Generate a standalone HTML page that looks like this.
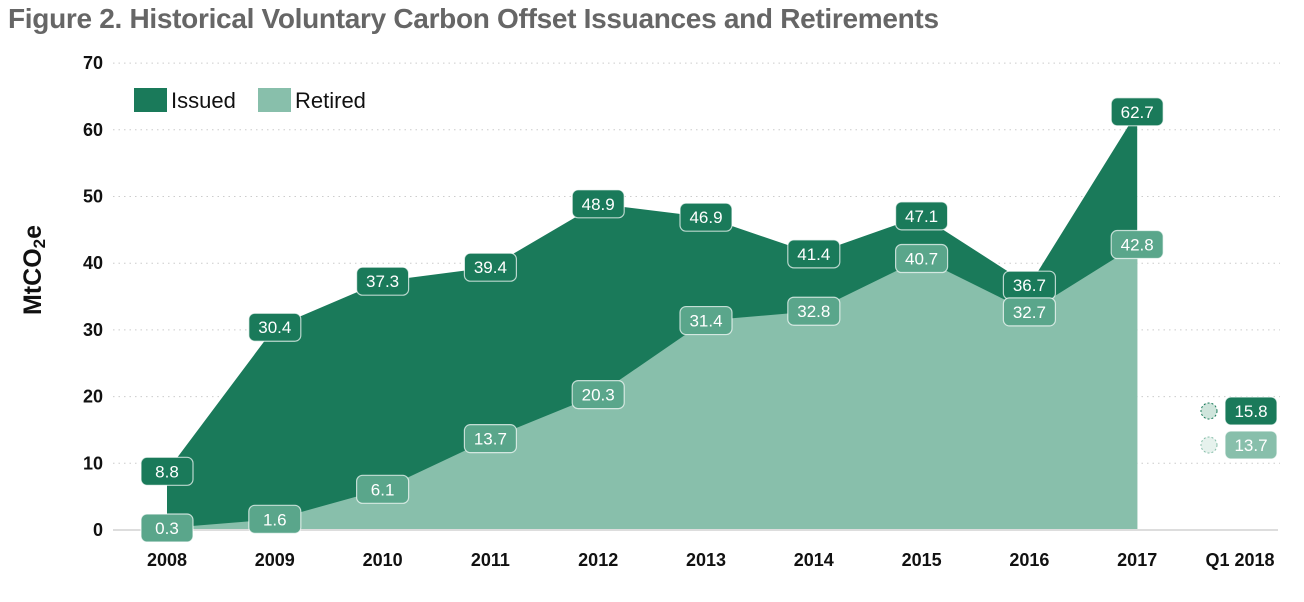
<!DOCTYPE html>
<html><head><meta charset="utf-8"><style>
body{margin:0;background:#fff;width:1304px;height:602px;overflow:hidden;font-family:"Liberation Sans",sans-serif}
</style></head><body>
<div style="position:absolute;left:8px;top:3px;font-size:28px;font-weight:bold;color:#666;letter-spacing:-0.3px">Figure 2. Historical Voluntary Carbon Offset Issuances and Retirements</div>
<svg id="c" width="1304" height="602" style="position:absolute;left:0;top:0"></svg>
<script>
const years=["2008","2009","2010","2011","2012","2013","2014","2015","2016","2017"];
const issued=[8.8,30.4,37.3,39.4,48.9,46.9,41.4,47.1,36.7,62.7];
const retired=[0.3,1.6,6.1,13.7,20.3,31.4,32.8,40.7,32.7,42.8];
const q1Label="Q1 2018";
const q1Issued=15.8, q1Retired=13.7;
const yTicks=[0,10,20,30,40,50,60,70];
const svg=document.getElementById('c');
const NS='http://www.w3.org/2000/svg';
const x=i=>167+i*107.8;
const y=v=>530-v*6.67;
function el(t,a,p){const e=document.createElementNS(NS,t);for(const k in a)e.setAttribute(k,a[k]);(p||svg).appendChild(e);return e;}
yTicks.forEach(t=>{
  if(t>0){const g=el('line',{x1:113,x2:1280,y1:y(t),y2:y(t),stroke:'#ccc','stroke-dasharray':'1.5 4'});
  
  }
  const l=el('text',{x:103,y:y(t)+6,'text-anchor':'end','font-size':18,'font-weight':'bold',fill:'#111'});l.textContent=t;
  
  
});
const yt=el('text',{transform:'translate(41,270) rotate(-90)','text-anchor':'middle','font-size':25,'font-weight':'bold',fill:'#111'});
yt.innerHTML='MtCO<tspan font-size="17" dy="4">2</tspan><tspan dy="-4">e</tspan>';


function area(vals,fill,name){
  let d='M'+x(0)+','+y(0);vals.forEach((v,i)=>d+=' L'+x(i)+','+y(v));d+=' L'+x(vals.length-1)+','+y(0)+'Z';
  const p=el('path',{d:d,fill:fill});
  
  
}
area(issued,'#1a7a5a','issued-area');
area(retired,'#88bfab','retired-area');
const ax=el('line',{x1:113,x2:1278,y1:530,y2:530,stroke:'#ddd','stroke-width':2});


function label(cx,cy,v,fill,name){
  const g=el('g',{});
  
  
  el('rect',{x:cx-26,y:cy-14,width:52,height:28,rx:6,fill:fill,stroke:'#fff','stroke-opacity':0.7,'stroke-width':1.2},g);
  const t=el('text',{x:cx,y:cy+6,'text-anchor':'middle','font-size':17,fill:'#fff'},g);t.textContent=v.toFixed(1);
}
issued.forEach((v,i)=>label(x(i),y(v),v,'#1a7a5a','issued-value-label'));
retired.forEach((v,i)=>label(x(i),y(v),v,'#5aa68b','retired-value-label'));
years.concat([q1Label]).forEach((yr,i)=>{
  const t=el('text',{x:i<years.length?x(i):1240,y:566,'text-anchor':'middle','font-size':18,'font-weight':'bold',fill:'#111'});t.textContent=yr;
  
  
});
const c1=el('circle',{cx:1209,cy:411,r:8,fill:'#cfe5dc',stroke:'#1a7a5a','stroke-dasharray':'2 2'});


const c2=el('circle',{cx:1209,cy:445,r:8,fill:'#e6f2ed',stroke:'#88bfab','stroke-dasharray':'2 2'});


label(1251,411,q1Issued,'#1a7a5a','q1-issued-label');
label(1251,445,q1Retired,'#88bfab','q1-retired-label');
const lg=el('g',{});


el('rect',{x:134,y:88,width:33,height:24,fill:'#1a7a5a'},lg);
let t1=el('text',{x:171,y:108,'font-size':22,fill:'#111'},lg);t1.textContent='Issued';
el('rect',{x:258,y:88,width:33,height:24,fill:'#88bfab'},lg);
let t2=el('text',{x:295,y:108,'font-size':22,fill:'#111'},lg);t2.textContent='Retired';
</script>
</body></html>
